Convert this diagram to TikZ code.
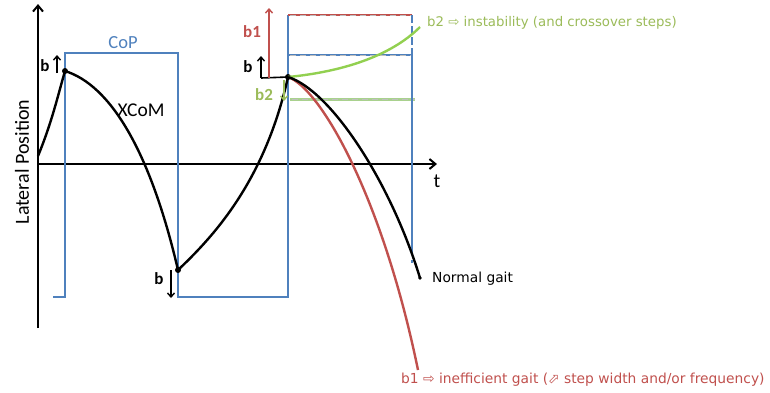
\documentclass[tikz,border=0pt]{standalone}
\usepackage{fontspec}
\setmainfont{Carlito}
\newfontfamily\dejavu{DejaVu Sans}
\usetikzlibrary{arrows.meta}
\definecolor{copblue}{HTML}{4F81BD}
\definecolor{bred}{HTML}{C0504D}
\definecolor{bgreen}{HTML}{9BBB59}
\definecolor{cgreen}{HTML}{92D050}
\definecolor{lgreen}{HTML}{A9D18E}
\begin{document}
\begin{tikzpicture}[x=1pt,y=-1pt,
  axis/.style={line width=2.4pt,-{Straight Barb[length=6pt,width=10pt,line width=2pt]}},
  cop/.style={copblue,line width=2pt},
  curve/.style={line width=2.4pt},
  barr/.style={line width=1.6pt,-{Straight Barb[length=4pt,width=7pt,line width=1.4pt]}},
  dot/.style={circle,fill=black,inner sep=0pt,minimum size=6pt},
  lbl/.style={font=\fontsize{18.5}{20}\selectfont},
  blbl/.style={font=\fontsize{17}{19}\selectfont\bfseries,inner sep=0pt},
  note/.style={anchor=west,inner sep=0pt,font=\fontsize{13.8}{16}\dejavu},
  gdash/.style={draw=gray!50,line width=1pt,dash pattern=on 6pt off 4pt}]
\useasboundingbox (0,0) rectangle (770,392);
% axes
\coordinate (o) at (38,164);
\coordinate (ytop) at (38,4);
\coordinate (ybot) at (38,328);
\coordinate (xend) at (437,164);
\draw[axis] (ybot) -- (ytop);
\draw[axis] (o) -- (xend);
\node[font=\fontsize{20}{22}\selectfont] (t) at (437,181) {t};
\node[font=\fontsize{20}{22}\selectfont,rotate=90] (ylab) at (22,162) {Lateral Position};
% CoP
\draw[cop] (53,297) -- (65,297) -- (65,53) -- (178,53) -- (178,297) -- (288,297) -- (288,15);
\node[lbl,text=copblue] (cop) at (123,43) {CoP};
% step variants
\draw[bred,line width=2pt] (288,15) -- (412,15);
\draw[gdash] (290,15) -- (412,15);
\draw[cop] (288,55) -- (412,55);
\draw[gdash] (290,55) -- (412,55);
\draw[lgreen,line width=3pt] (290,99) -- (415,99);
\draw[gdash] (292,99) -- (415,99);
\draw[cop,dash pattern=on 8pt off 3pt] (412,15) -- (412,55);
\draw[cop] (412,55) -- (412,254);
\draw[cop] (412,260) -- (412,263);
% XCoM
\node[dot] (d1) at (65,71) {};
\node[dot] (d2) at (178,270) {};
\node[dot] (d3) at (288,77) {};
\coordinate (s0) at (38,156);
\coordinate (eN) at (420,278);
\coordinate (eR) at (418,370);
\coordinate (eG) at (420,27);
\draw[curve,bred] (d3.center) .. controls (320,88) and (382,195) .. (eR);
\draw[curve,cgreen] (d3.center) .. controls (340,72) and (390,57) .. (eG);
\draw[curve] (s0) .. controls (52,122) and (58,95) .. (d1.center);
\draw[curve] (d1.center) .. controls (110,85) and (150,150) .. (d2.center);
\draw[curve] (d2.center) .. controls (215,235) and (265,180) .. (d3.center);
\draw[curve] (d3.center) .. controls (330,90) and (390,180) .. (eN);
\fill (eN) circle (1.8pt);
\node[lbl,font=\fontsize{19.5}{21}\selectfont] (xcom) at (141,110) {XCoM};
% b labels
\node[blbl] (b1l) at (45,66) {b};
\coordinate (a1s) at (57,73); \coordinate (a1e) at (57,55);
\draw[barr] (a1s) -- (a1e);
\node[blbl] (b2l) at (159,279) {b};
\coordinate (a2s) at (171,270); \coordinate (a2e) at (171,298);
\draw[barr] (a2s) -- (a2e);
\node[blbl] (b3l) at (248,67) {b};
\coordinate (hb) at (261,78);
\draw[line width=1.6pt] (hb) -- (d3.center);
\coordinate (a3e) at (261,56);
\draw[barr] (hb) -- (a3e);
\coordinate (r1s) at (269,78); \coordinate (r1e) at (269,8);
\draw[barr,bred] (r1s) -- (r1e);
\node[blbl,text=bred] (b1) at (252,32) {b1};
\coordinate (g1s) at (284,80); \coordinate (g1e) at (284,101);
\draw[barr,bgreen] (g1s) -- (g1e);
\node[blbl,text=bgreen] (b2) at (264,95) {b2};
% annotations
\node[note] (ng) at (432,279) {Normal gait};
\node[note,text=bred] (rtxt) at (401,380) {b1 ⇨ inefficient gait (⬀ step width and/or frequency)};
\node[note,text=bgreen,font=\fontsize{13.3}{16}\dejavu] (gtxt) at (427,23) {b2 ⇨ instability (and crossover steps)};
\end{tikzpicture}
\end{document}
